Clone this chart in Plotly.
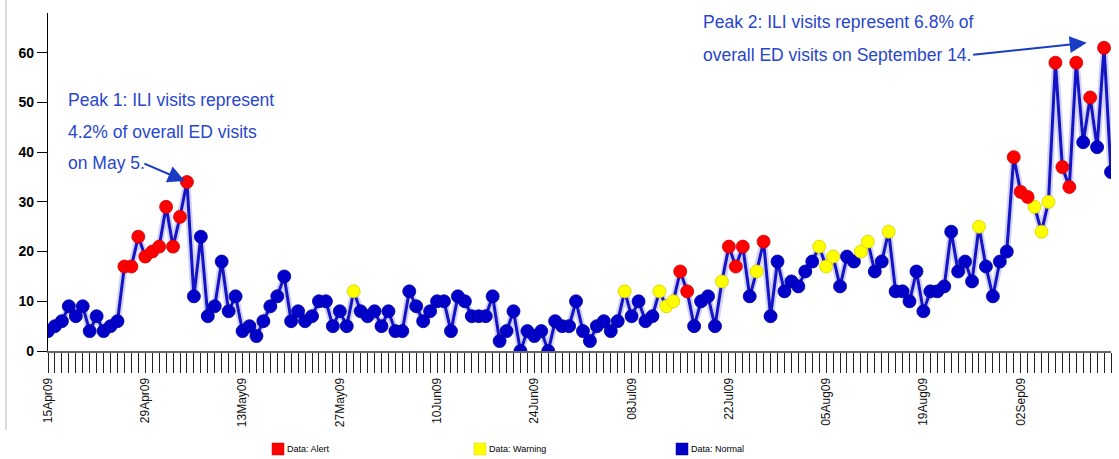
import plotly.graph_objects as go
import pandas as pd

# ---------------- data ----------------
start_date = "2009-04-15"

ili_visits = [
    4, 5, 6, 9, 7, 9, 4, 7, 4, 5,
    6, 17, 17, 23, 19, 20, 21, 29, 21, 27,
    34, 11, 23, 7, 9, 18, 8, 11, 4, 5,
    3, 6, 9, 11, 15, 6, 8, 6, 7, 10,
    10, 5, 8, 5, 12, 8, 7, 8, 5, 8,
    4, 4, 12, 9, 6, 8, 10, 10, 4, 11,
    10, 7, 7, 7, 11, 2, 4, 8, 0, 4,
    3, 4, 0, 6, 5, 5, 10, 4, 2, 5,
    6, 4, 6, 12, 7, 10, 6, 7, 12, 9,
    10, 16, 12, 5, 10, 11, 5, 14, 21, 17,
    21, 11, 16, 22, 7, 18, 12, 14, 13, 16,
    18, 21, 17, 19, 13, 19, 18, 20, 22, 16,
    18, 24, 12, 12, 10, 16, 8, 12, 12, 13,
    24, 16, 18, 14, 25, 17, 11, 18, 20, 39,
    32, 31, 29, 24, 30, 58, 37, 33, 58, 42,
    51, 41, 61, 36,
]

# N = normal, W = warning, A = alert
status = list(
    "NNNNNNNNNN"
    "NAAAAAAAAA"
    "ANNNNNNNNN"
    "NNNNNNNNNN"
    "NNNNWNNNNN"
    "NNNNNNNNNN"
    "NNNNNNNNNN"
    "NNNNNNNNNN"
    "NNNWNNNNWW"
    "WAANNNNWAA"
    "ANWANNNNNN"
    "NWWWNNNWWN"
    "NWNNNNNNNN"
    "NNNNWNNNNA"
    "AAWWWAAAAN"
    "ANAN"
)

tick_labels = ["15Apr09", "29Apr09", "13May09", "27May09", "10Jun09", "24Jun09",
               "08Jul09", "22Jul09", "05Aug09", "19Aug09", "02Sep09"]

legend_names = {"A": "Data: Alert", "W": "Data: Warning", "N": "Data: Normal"}
status_colors = {"A": "#ff0000", "W": "#ffff00", "N": "#0000c8"}
status_edges = {"A": "#d00000", "W": "#d8cf00", "N": "#0000a0"}

annot_peak1 = ["Peak 1: ILI visits represent", "4.2% of overall ED visits", "on May 5."]
annot_peak2 = ["Peak 2: ILI visits represent 6.8% of", "overall ED visits on September 14."]

# ---------------- figure ----------------
dates = pd.date_range(start_date, periods=len(ili_visits), freq="D")
tick_dates = list(dates[::14])

W, H = 1119, 459
L, R, T, B = 48, 8, 13, 108
PW, PH = W - L - R, H - T - B


def px(xp):
    return (xp - L) / PW


def py(yp):
    return (H - B - yp) / PH


fig = go.Figure()

# soft glow under the line
fig.add_trace(go.Scatter(x=dates, y=ili_visits, mode="lines",
                         line=dict(color="rgba(90,90,235,0.28)", width=7),
                         hoverinfo="skip", showlegend=False))
fig.add_trace(go.Scatter(x=dates, y=ili_visits, mode="lines",
                         line=dict(color="#1414c4", width=3),
                         hoverinfo="skip", showlegend=False))

for code in ["N", "W", "A"]:
    xs = [d for d, s in zip(dates, status) if s == code]
    ys = [v for v, s in zip(ili_visits, status) if s == code]
    fig.add_trace(go.Scatter(
        x=xs, y=ys, mode="markers", name=legend_names[code],
        marker=dict(size=13, color=status_colors[code],
                    line=dict(color=status_edges[code], width=0.8)),
        showlegend=False))

text_font = dict(family="Liberation Sans, Arial, sans-serif", size=17.5, color="#2846cc")

annotations = []
for i, line in enumerate(annot_peak1):
    annotations.append(dict(text=line, xref="paper", yref="paper",
                            x=px(66), y=py(100 + i * 31.5), xanchor="left", yanchor="middle",
                            showarrow=False, font=text_font))
for i, line in enumerate(annot_peak2):
    annotations.append(dict(text=line, xref="paper", yref="paper",
                            x=px(701), y=py(22 + i * 33), xanchor="left", yanchor="middle",
                            showarrow=False, font=text_font))

# arrows
t0 = pd.Timestamp(start_date)
annotations.append(dict(text="", x=t0 + pd.Timedelta(days=19.7), y=34.2, xref="x", yref="y",
                        ax=-42, ay=-18, showarrow=True, arrowhead=2, arrowsize=1.7,
                        arrowwidth=2, arrowcolor="#1a3cc4", standoff=0))
annotations.append(dict(text="", x=t0 + pd.Timedelta(days=149.5), y=62, xref="x", yref="y",
                        ax=-115, ay=12, showarrow=True, arrowhead=2, arrowsize=1.7,
                        arrowwidth=2, arrowcolor="#1a3cc4", standoff=0))

# custom legend
shapes = []
for code, x0 in [("A", 272), ("W", 474), ("N", 676)]:
    shapes.append(dict(type="rect", xref="paper", yref="paper",
                       x0=px(x0), x1=px(x0 + 12), y0=py(455), y1=py(443),
                       fillcolor=status_colors[code], line=dict(color=status_edges[code], width=0.5)))
    annotations.append(dict(text=legend_names[code], xref="paper", yref="paper",
                            x=px(x0 + 13), y=py(449), xanchor="left", yanchor="middle",
                            showarrow=False,
                            font=dict(family="Liberation Sans, Arial, sans-serif", size=9, color="#000")))

# light frame line on left
shapes.append(dict(type="line", xref="paper", yref="paper", x0=px(6), x1=px(6),
                   y0=py(430), y1=py(0), line=dict(color="#d0d0d0", width=1.5)))

fig.update_layout(
    width=W, height=H, autosize=False,
    margin=dict(l=L, r=R, t=T, b=B, pad=0),
    plot_bgcolor="white", paper_bgcolor="white",
    showlegend=False,
    annotations=annotations, shapes=shapes,
    font=dict(family="Liberation Sans, Arial, sans-serif", color="#000"),
)

fig.update_xaxes(
    type="date", range=[dates[0], dates[-1]],
    tickmode="array", tickvals=tick_dates, ticktext=tick_labels, tickangle=-90,
    ticks="outside", ticklen=20, tickcolor="#222", tickwidth=1,
    minor=dict(ticks="outside", ticklen=20, tickcolor="#222", tickwidth=1,
               dtick=86400000, tick0=start_date, showgrid=False),
    showline=True, linecolor="#666", linewidth=2,
    showgrid=False, zeroline=False,
    tickfont=dict(family="Liberation Sans, Arial, sans-serif", size=12, color="#111"),
)

fig.update_yaxes(
    range=[0, 68], tickmode="array", tickvals=[0, 10, 20, 30, 40, 50, 60],
    ticks="outside", ticklen=10, tickcolor="#000", tickwidth=1,
    showline=True, linecolor="#000", linewidth=1.2,
    showgrid=False, zeroline=False,
    tickfont=dict(family="Liberation Sans, Arial, sans-serif", size=14, color="#000", weight="bold"),
)

fig.write_html("out.html", config={"displayModeBar": False},
               post_script="document.body.style.margin='0';")
